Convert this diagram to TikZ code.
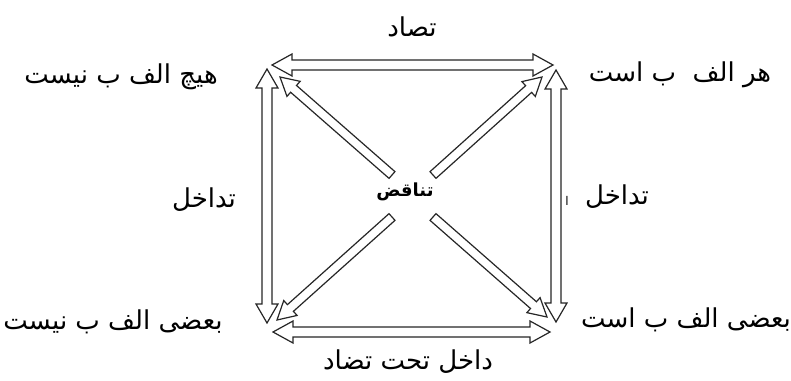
\documentclass[tikz,border=0pt]{standalone}
\usepackage{fontspec}
\newfontfamily\arabicfont[Script=Arabic]{DejaVu Sans}
\TeXXeTstate=1
\usetikzlibrary{calc}
\tikzset{
  arr/.style={draw=black!85, fill=white, line width=1.2pt, line join=miter},
  lbl/.style={font=\arabicfont\fontsize{26}{30}\selectfont, inner sep=0pt},
  ctr/.style={font=\arabicfont\bfseries\fontsize{18}{20}\selectfont, inner sep=0pt}
}
% hollow double-headed arrow: #1 tip A, #2 tip B, #3 shaft half width, #4 head half width, #5 head length
\newcommand\hdbl[5]{%
  \coordinate (ha) at ($(#1)!#5!(#2)$);
  \coordinate (hb) at ($(#2)!#5!(#1)$);
  \draw[arr] (#1) -- ($(ha)!#4!90:(#2)$) -- ($(ha)!#3!90:(#2)$) -- ($(hb)!#3!-90:(#1)$) -- ($(hb)!#4!-90:(#1)$) -- (#2) -- ($(hb)!#4!90:(#1)$) -- ($(hb)!#3!90:(#1)$) -- ($(ha)!#3!-90:(#2)$) -- ($(ha)!#4!-90:(#2)$) -- cycle;}
% hollow single arrow: #1 tail, #2 tip
\newcommand\hsgl[5]{%
  \coordinate (hp) at ($(#2)!#5!(#1)$);
  \draw[arr] ($(#1)!#3!90:(#2)$) -- ($(hp)!#3!-90:(#1)$) -- ($(hp)!#4!-90:(#1)$) -- (#2) -- ($(hp)!#4!90:(#1)$) -- ($(hp)!#3!90:(#1)$) -- ($(#1)!#3!-90:(#2)$) -- cycle;}
\begin{document}
\begin{tikzpicture}[x=1pt,y=-1pt]
\useasboundingbox (0,0) rectangle (791,380);
% end points
\coordinate (topL) at (272,65);
\coordinate (topR) at (553,65);
\coordinate (botL) at (273,332);
\coordinate (botR) at (550,332);
\coordinate (lftT) at (267,69);
\coordinate (lftB) at (267,323);
\coordinate (rgtT) at (556,70);
\coordinate (rgtB) at (556,322);
\coordinate (tlTail) at (392,175);
\coordinate (tlTip) at (280,77);
\coordinate (trTail) at (433,175);
\coordinate (trTip) at (542,77);
\coordinate (blTail) at (392,217);
\coordinate (blTip) at (277,320);
\coordinate (brTail) at (433,217);
\coordinate (brTip) at (547,317);
% arrows
\hsgl{tlTail}{tlTip}{4.5pt}{10pt}{18pt}
\hsgl{trTail}{trTip}{4.5pt}{10pt}{18pt}
\hsgl{blTail}{blTip}{4.5pt}{10pt}{18pt}
\hsgl{brTail}{brTip}{4.5pt}{10pt}{18pt}
\hdbl{lftT}{lftB}{5pt}{11pt}{19pt}
\hdbl{rgtT}{rgtB}{5pt}{11pt}{19pt}
\hdbl{topL}{topR}{5pt}{11pt}{20pt}
\hdbl{botL}{botR}{5pt}{11pt}{20pt}
% labels
\node[lbl] (tadad) at (412,27) {\beginR تصاد\endR};
\node[lbl] (hich) at (121,77) {\beginR هيچ الف ب نيست\endR};
\node[lbl] (har) at (680,75) {\beginR هر الف\ \ ب است\endR};
\node[lbl] (tadakhulL) at (204,200) {\beginR تداخل\endR};
\node[lbl] (tadakhulR) at (617,197) {\beginR تداخل\endR};
\node[lbl, font=\arabicfont\fontsize{12}{14}\selectfont] (tick) at (567,201) {\beginR ا\endR};
\node[ctr] (tanaqud) at (405,192) {\beginR تناقض\endR};
\node[lbl] (bazinist) at (113,322) {\beginR بعضى الف ب نيست\endR};
\node[lbl] (baziast) at (686,320) {\beginR بعضى الف ب است\endR};
\node[lbl] (dakhil) at (408,362) {\beginR داخل تحت تضاد\endR};
\end{tikzpicture}
\end{document}
